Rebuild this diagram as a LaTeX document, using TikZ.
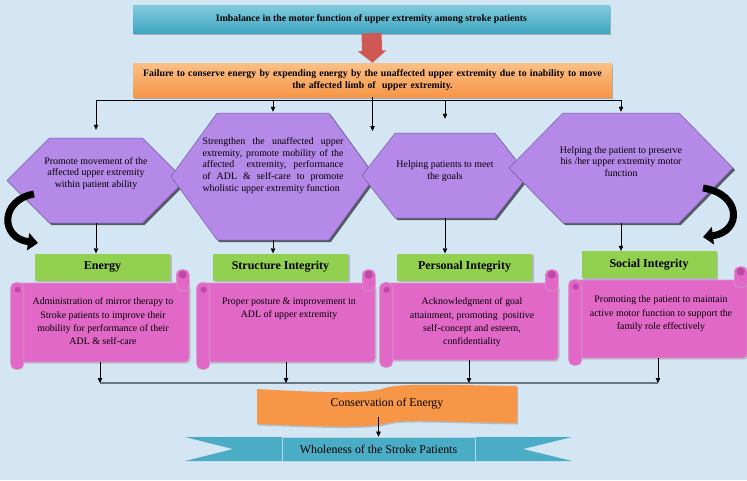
\documentclass[tikz,border=0pt]{standalone}
\usepackage{fontspec}
\setmainfont{Liberation Serif}
\usetikzlibrary{positioning,arrows.meta,shapes.symbols,shadows}
\definecolor{bgblue}{RGB}{212,230,243}
\definecolor{tealtop}{RGB}{128,203,222}
\definecolor{tealbot}{RGB}{66,166,194}
\definecolor{orangetop}{RGB}{251,192,134}
\definecolor{orangebot}{RGB}{246,150,72}
\definecolor{hexpurple}{RGB}{181,137,232}
\definecolor{hexedge}{RGB}{115,90,172}
\definecolor{headgreen}{RGB}{146,208,80}
\definecolor{scrollpink}{RGB}{226,104,200}
\definecolor{scrolledge}{RGB}{214,150,196}
\definecolor{rolldark}{RGB}{190,72,168}
\definecolor{redarrow}{RGB}{206,88,84}
\definecolor{busgray}{RGB}{105,120,135}
\definecolor{banner}{RGB}{247,150,70}
\definecolor{ribbon}{RGB}{75,172,198}
\tikzset{
  >={Triangle[length=5pt,width=4.5pt]},
  bar/.style={inner sep=2pt, align=center, font=\fontsize{9.8}{12.5}\selectfont\bfseries,
    drop shadow={shadow xshift=1pt, shadow yshift=-1.5pt, opacity=.55}},
  hexa/.style={signal, signal to=west and east, fill=hexpurple, draw=hexedge, line width=.5pt,
    drop shadow={shadow xshift=2pt, shadow yshift=-2pt, opacity=.6, fill=black}},
  hextext/.style={inner sep=0pt, align=center, font=\fontsize{9.9}{11.8}\selectfont},
  head/.style={fill=headgreen, minimum width=135pt, minimum height=27pt, inner sep=0pt,
    font=\fontsize{12}{14}\selectfont\bfseries,
    drop shadow={shadow xshift=1.5pt, shadow yshift=-1.5pt, opacity=.45}},
  scroll/.style={fill=scrollpink, draw=scrolledge, line width=.6pt, rounded corners=4pt,
    minimum width=178pt, minimum height=79pt,
    drop shadow={shadow xshift=1.5pt, shadow yshift=-1.5pt, opacity=.35}},
  roll/.style={fill=scrollpink, draw=scrolledge, line width=.6pt, rounded corners=5pt},
  scrolltext/.style={inner sep=0pt, align=center, font=\fontsize{9.9}{13.3}\selectfont},
  bendarrow/.style={line width=7pt, -{Triangle[length=10pt,width=17pt]}},
}
\begin{document}
\begin{tikzpicture}[x=1pt,y=-1pt]
\path[use as bounding box, fill=bgblue] (0,0) rectangle (747,480);
\node[bar, top color=tealtop, bottom color=tealbot, minimum width=477pt, minimum height=28pt] (imb) at (371.5,19) {Imbalance in the motor function of upper extremity among stroke patients};
\node[bar, top color=orangetop, bottom color=orangebot, minimum width=479pt, minimum height=34pt, text width=472pt] (fail) at (372.5,80) {Failure to conserve energy by expending energy by the unaffected upper extremity due to inability to move\\the affected limb of~ upper extremity.};
\draw[line width=20pt, redarrow, -{Triangle[length=12pt,width=28pt]}] (imb.south) -- (fail.north);
\node[hexa, minimum width=178pt, minimum height=85pt, signal pointer angle=90] (h1) at (96,180.5) {};
\node[hexa, minimum width=204pt, minimum height=127pt, signal pointer angle=108] (h2) at (273,176.5) {};
\node[hexa, minimum width=166pt, minimum height=85pt, signal pointer angle=104] (h3) at (445,175.5) {};
\node[hexa, minimum width=224pt, minimum height=110pt, signal pointer angle=91] (h4) at (621,168) {};
\node[hextext] (t1) at ([yshift=7pt]h1.center) {Promote movement of the\\affected upper extremity\\within patient ability};
\node[hextext, text width=141pt, align=justify] (t2) at ([yshift=11pt]h2.center) {Strengthen the unaffected upper\linebreak extremity, promote mobility of the\linebreak affected~ extremity, performance\linebreak of ADL \& self-care to promote\linebreak wholistic upper extremity function};
\node[hextext] (t3) at ([yshift=4pt]h3.center) {Helping patients to meet\\the goals};
\node[hextext] (t4) at ([yshift=6.5pt]h4.center) {Helping the patient to preserve\\his /her upper extremity motor\\function};
\coordinate (bus) at (372.5,100);
\coordinate (mid) at (372.5,131);
\draw[->] (fail.south) -- (mid);
\draw (h1.north |- bus) -- (h4.north |- bus);
\draw[->, shorten >=8pt] (h1.north |- bus) -- (h1.north);
\draw[->, shorten >=1pt] (h2.north |- bus) -- (h2.north);
\draw[->, shorten >=14pt] (h3.north |- bus) -- (h3.north);
\draw[->, shorten >=1pt] (h4.north |- bus) -- (h4.north);
\node[head] (e1) at (102.5,267) {Energy};
\node[head] (e2) at (280.5,267) {Structure Integrity};
\node[head] (e3) at (464.5,267) {Personal Integrity};
\node[head] (e4) at (649,264.5) {Social Integrity};
\draw[->] (h1.south) -- (h1.south |- e1.north);
\draw[->] (h2.south) -- (h2.south |- e2.north);
\draw[->] (h3.south) -- (h3.south |- e3.north);
\draw[->] (h4.south) -- (h4.south |- e4.north);
\node[scroll] (s1) at (100,322.5) {};
\node[scroll] (s2) at (286,322.5) {};
\node[scroll, minimum height=77pt] (s3) at (469,321.5) {};
\node[scroll, minimum height=78pt] (s4) at (658,319) {};
\foreach \s in {s1,s2,s3,s4}{
  \filldraw[roll] ([xshift=-13pt,yshift=13pt]\s.north east) rectangle ([yshift=-8pt]\s.north east);
  \filldraw[roll] (\s.north west) rectangle ([xshift=13pt,yshift=-7pt]\s.south west);
  \fill[rolldark] ([xshift=-6.5pt,yshift=8pt]\s.north east) circle (4pt);
  \fill[rolldark] ([xshift=7pt,yshift=-7pt]\s.north west) circle (3pt);
}
\node[scrolltext, below=15pt of s1.north, xshift=3pt] (p1) {Administration of mirror therapy to\\Stroke patients to improve their\\mobility for performance of their\\ADL \& self-care};
\node[scrolltext, below=15pt of s2.north, xshift=3pt] (p2) {Proper posture \& improvement in\\ADL of upper extremity};
\node[scrolltext, below=15pt of s3.north, xshift=3pt] (p3) {Acknowledgment of goal\\attainment, promoting~ positive\\self-concept and esteem,\\confidentiality};
\node[scrolltext, below=16pt of s4.north, xshift=3pt] (p4) {Promoting the patient to maintain\\active motor function to support the\\family role effectively};
\coordinate (lowbus) at (0,383);
\draw[busgray, line width=1.2pt] (s1.south |- lowbus) -- (s4.south |- lowbus);
\draw[->] (s1.south) -- (s1.south |- lowbus);
\draw[->] (s2.south) -- (s2.south |- lowbus);
\draw[->] (s3.south) -- (s3.south |- lowbus);
\draw[->] (s4.south) -- (s4.south |- lowbus);
\fill[banner, drop shadow={shadow xshift=1pt, shadow yshift=-1.5pt, opacity=.4}] (257,389) .. controls (330,393) and (368,394) .. (385,388) .. controls (400,383) and (450,385) .. (517,386) -- (517,423) .. controls (450,422) and (402,419) .. (388,423) .. controls (372,428) and (330,427) .. (257,424) -- cycle;
\node[font=\fontsize{11.8}{13}\selectfont] (cons) at (387,404) {Conservation of Energy};
\fill[ribbon] (185,437) -- (282,437) -- (282,461) -- (185,461) -- (233,449) -- cycle;
\fill[ribbon] (572,437) -- (475,437) -- (475,461) -- (572,461) -- (523,449) -- cycle;
\node[fill=ribbon, draw=ribbon!45!white, line width=.6pt, minimum width=193pt, minimum height=24pt, font=\fontsize{11.9}{13}\selectfont] (whole) at (378.5,449) {Wholeness of the Stroke Patients};
\draw[->] ([yshift=-4pt]cons.south -| whole.north) -- (whole.north);
\coordinate (la1) at (34,194);
\coordinate (la2) at (38,243);
\draw[bendarrow] (la1) .. controls (0,200) and (0,238) .. (la2);
\coordinate (ra1) at (703,188);
\coordinate (ra2) at (703,237);
\draw[bendarrow] (ra1) .. controls (742,194) and (742,232) .. (ra2);
\end{tikzpicture}
\end{document}
